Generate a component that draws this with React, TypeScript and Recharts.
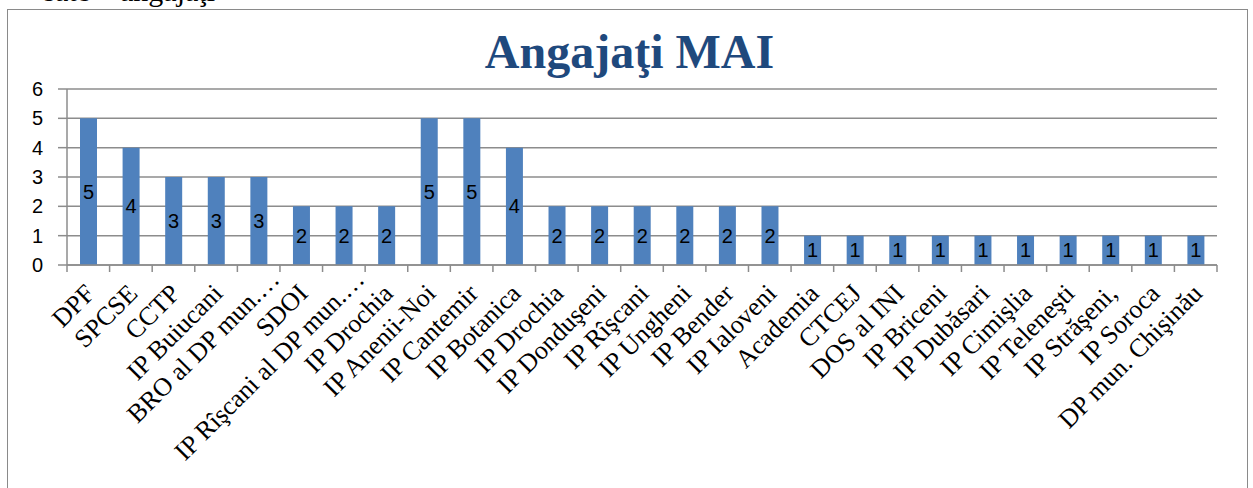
import React from "react";
import { BarChart, Bar, XAxis, YAxis, CartesianGrid, LabelList } from "recharts";

const categories: string[] = [
  "DPF", "SPCSE", "CCTP", "IP Buiucani", "BRO al DP mun.…", "SDOI",
  "IP Rîşcani al DP mun.…", "IP Drochia", "IP Anenii-Noi", "IP Cantemir",
  "IP Botanica", "IP Drochia", "IP Donduşeni", "IP Rîşcani", "IP Ungheni",
  "IP Bender", "IP Ialoveni", "Academia", "CTCEJ", "DOS al INI", "IP Briceni",
  "IP Dubăsari", "IP Cimişlia", "IP Teleneşti", "IP Străşeni,", "IP Soroca",
  "DP mun. Chişinău",
];
const values: number[] = [5, 4, 3, 3, 3, 2, 2, 2, 5, 5, 4, 2, 2, 2, 2, 2, 2, 1, 1, 1, 1, 1, 1, 1, 1, 1, 1];
const yTicks: number[] = [0, 1, 2, 3, 4, 5, 6];
const title = "Angajaţi MAI";
const aboveText = "sate – angajaţi";

const data = categories.map((name, i) => ({ name, value: values[i] }));

const GRID = "#8c8c8c";
const CHART_W = 1253;
const CHART_H = 488;
const MARGIN = { top: 89, right: 36, left: 7, bottom: 23 };
const Y_W = 60;
const PLOT_W = CHART_W - MARGIN.left - MARGIN.right - Y_W;
const BAND = PLOT_W / categories.length;

const CatTick = (props: any) => {
  const { x, y, payload, index } = props;
  const label = String(payload.value);
  const truncated = label.endsWith("…");
  const isLast = index === categories.length - 1;
  return (
    <g>
      <line x1={x - BAND / 2} x2={x - BAND / 2} y1={y} y2={y + 7} stroke={GRID} strokeWidth={1.5} />
      {isLast && <line x1={x + BAND / 2} x2={x + BAND / 2} y1={y} y2={y + 7} stroke={GRID} strokeWidth={1.5} />}
      <g transform={`translate(${x + 8},${y + 30})`}>
        <text
          x={0}
          y={0}
          dx={truncated ? 20 : 0}
          textAnchor="end"
          transform="rotate(-45)"
          fontFamily="'Liberation Serif', 'Times New Roman', serif"
          fontSize={26}
          fill="#000"
        >
          {label}
        </text>
      </g>
    </g>
  );
};

export default function App() {
  return (
    <div style={{ position: "absolute", left: 0, top: 0, width: CHART_W, height: CHART_H, background: "#fff", overflow: "hidden" }}>
      <svg width={CHART_W} height={9} style={{ position: "absolute", left: 0, top: 0, display: "block" }}>
        <text x={215} y={1} textAnchor="end" fontFamily="'Liberation Serif', serif" fontSize={30} fill="#000">
          {aboveText}
        </text>
      </svg>
      <div
        style={{
          position: "absolute",
          left: 7,
          top: 9,
          width: 1241,
          height: 500,
          border: "1.5px solid #8a8a8a",
          boxSizing: "border-box",
        }}
      />
      <div
        style={{
          position: "absolute",
          left: 0,
          top: 20,
          width: 1259,
          textAlign: "center",
          fontFamily: "'Liberation Serif', 'Times New Roman', serif",
          fontWeight: "bold",
          fontSize: 48,
          lineHeight: "64px",
          color: "#1F497D",
        }}
      >
        {title}
      </div>
      <div style={{ position: "absolute", left: 0, top: 0 }}>
        <BarChart width={CHART_W} height={CHART_H} data={data} margin={MARGIN}>
          <CartesianGrid vertical={false} stroke={GRID} strokeWidth={1.5} />
          <XAxis
            dataKey="name"
            height={200}
            interval={0}
            tickSize={0}
            tickMargin={0}
            tickLine={false}
            axisLine={{ stroke: GRID, strokeWidth: 1.5 }}
            tick={<CatTick />}
          />
          <YAxis
            domain={[0, 6]}
            ticks={yTicks}
            interval={0}
            width={Y_W}
            tickSize={9}
            tickMargin={15}
            stroke={GRID}
            tickLine={{ stroke: GRID, strokeWidth: 1.5 }}
            axisLine={{ stroke: GRID, strokeWidth: 1.5 }}
            tick={{ fill: "#000", fontSize: 20, fontFamily: "'Liberation Sans', Arial, sans-serif" }}
          />
          <Bar dataKey="value" fill="#4F81BD" barSize={17} isAnimationActive={false}>
            <LabelList
              dataKey="value"
              position="center"
              fill="#000"
              fontSize={20}
              fontFamily="'Liberation Sans', Arial, sans-serif"
            />
          </Bar>
        </BarChart>
      </div>
    </div>
  );
}
